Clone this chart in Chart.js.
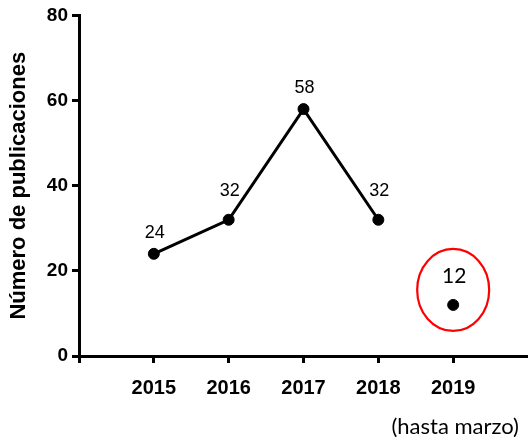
<!DOCTYPE html>
<html>
<head>
<meta charset="utf-8">
<script src="https://cdn.jsdelivr.net/npm/chart.js@4"></script>
<style>
  html, body { margin: 0; padding: 0; background: #fff; }
  canvas { display: block; }
</style>
</head>
<body>
<canvas id="grafico" width="528" height="437"></canvas>
<script>
// Datos
const anios = ["2015", "2016", "2017", "2018", "2019"];
const publicaciones = [24, 32, 58, 32, 12];
const ticksY = [0, 20, 40, 60, 80];
const notaUltimo = "(hasta marzo)";

// serie con línea (2015-2018) y punto suelto (2019)
const serieLinea = publicaciones.slice(0, 4).map((v, i) => ({ x: i, y: v }));
const serieSuelta = [{ x: 4, y: publicaciones[4] }];

const ARIAL = "'Liberation Sans', Arial, sans-serif";
// separación vertical de cada etiqueta respecto a su punto
const desplaz = [21, 29, 21, 29];

const etiquetas = {
  id: "etiquetas",
  afterDatasetsDraw(chart) {
    const { ctx, scales } = chart;
    ctx.save();
    ctx.fillStyle = "#000";
    ctx.textAlign = "center";
    ctx.textBaseline = "middle";
    publicaciones.forEach((v, i) => {
      const x = scales.x.getPixelForValue(i);
      const y = scales.y.getPixelForValue(v);
      if (i < 4) {
        ctx.font = "18px " + ARIAL;
        ctx.fillText(String(v), x + 1, y - desplaz[i]);
      } else {
        ctx.font = "21px Lato, sans-serif";
        ctx.fillText(String(v), x + 1, y - 29);
        // elipse roja
        ctx.strokeStyle = "#f00";
        ctx.lineWidth = 2.2;
        ctx.beginPath();
        ctx.ellipse(x, y - 15, 36, 41, 0, 0, Math.PI * 2);
        ctx.stroke();
      }
    });
    // nota bajo 2019
    ctx.font = "22px Lato, sans-serif";
    ctx.fillText(notaUltimo, scales.x.getPixelForValue(4) + 2, 427);
    ctx.restore();
  }
};

new Chart(document.getElementById("grafico"), {
  type: "line",
  data: {
    datasets: [{
      data: serieLinea,
      borderColor: "#000",
      backgroundColor: "#000",
      borderWidth: 3,
      pointRadius: 5.5,
      pointBorderWidth: 1,
      pointBackgroundColor: "#000",
      tension: 0
    }, {
      data: serieSuelta,
      showLine: false,
      borderColor: "#000",
      backgroundColor: "#000",
      pointRadius: 5.5,
      pointBorderWidth: 1,
      pointBackgroundColor: "#000"
    }]
  },
  options: {
    responsive: false,
    animation: false,
    devicePixelRatio: 1,
    layout: { autoPadding: false, padding: { top: 15, right: 0, left: 0, bottom: 0 } },
    plugins: { legend: { display: false }, tooltip: { enabled: false } },
    scales: {
      x: {
        type: "linear",
        min: -1,
        max: 5,
        afterBuildTicks: s => { s.ticks = [-1, 0, 1, 2, 3, 4].map(v => ({ value: v })); },
        afterFit: s => { s.height = 81; },
        ticks: {
          callback: v => (v >= 0 && v < anios.length ? anios[v] : ""),
          color: "#000",
          padding: 13,
          maxRotation: 0,
          autoSkip: false,
          font: { family: ARIAL, size: 20, weight: "bold" }
        },
        grid: { drawOnChartArea: false, drawTicks: true, tickLength: 7, color: "#000", lineWidth: 3 },
        border: { display: true, color: "#000", width: 3 }
      },
      y: {
        min: 0,
        max: 80,
        afterBuildTicks: s => { s.ticks = ticksY.map(v => ({ value: v })); },
        afterFit: s => { s.width = 79; },
        ticks: {
          color: "#000",
          padding: 4,
          autoSkip: false,
          font: { family: ARIAL, size: 19, weight: "bold" }
        },
        title: {
          display: true,
          text: "Número de publicaciones",
          color: "#000",
          padding: { top: 6, bottom: 0 },
          font: { family: ARIAL, size: 22, weight: "bold" }
        },
        grid: { drawOnChartArea: false, drawTicks: true, tickLength: 7, color: "#000", lineWidth: 3 },
        border: { display: true, color: "#000", width: 3 }
      }
    }
  },
  plugins: [etiquetas]
});
</script>
</body>
</html>
